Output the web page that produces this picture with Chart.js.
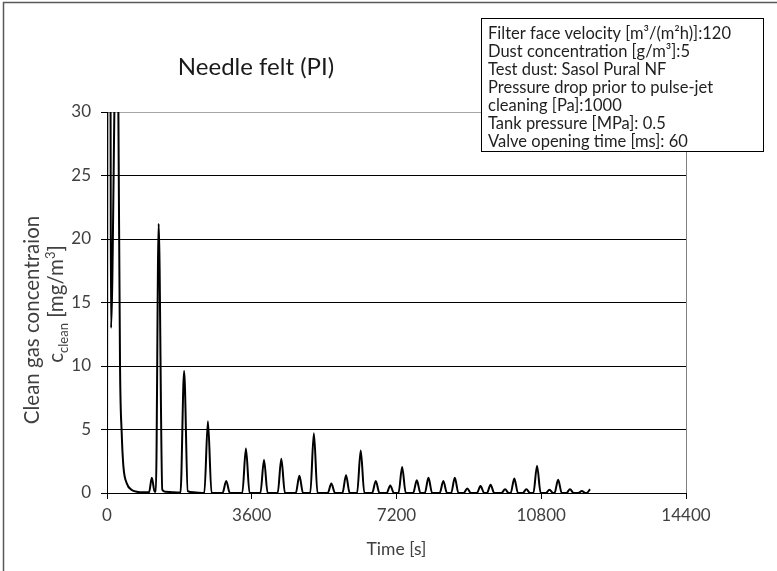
<!DOCTYPE html>
<html>
<head>
<meta charset="utf-8">
<title>Needle felt (PI)</title>
<script src="https://cdn.jsdelivr.net/npm/chart.js@4.4.0/dist/chart.umd.min.js"></script>
<style>
  html, body { margin: 0; padding: 0; background: #fff; }
  #wrap { width: 777px; height: 571px; }
</style>
</head>
<body>
<div id="wrap"><canvas id="myChart" width="777" height="571"></canvas></div>
<script>
// values
const timeS = [
  0, 20, 88, 100, 195, 245, 283, 324, 366, 408, 492, 616, 741, 900, 1045,
  1115, 1185, 1215, 1285, 1375, 1450, 1650, 1828, 1918, 2008, 2150, 2420,
  2510, 2600, 2875, 2965, 3055, 3365, 3455, 3545, 3815, 3905, 3995,
  4245, 4335, 4425, 4695, 4785, 4875, 5055, 5145, 5235, 5490, 5580, 5670,
  5855, 5945, 6035, 6220, 6310, 6400, 6595, 6685, 6775, 6955, 7045, 7135,
  7250, 7340, 7430, 7615, 7705, 7795, 7905, 7995, 8085, 8275, 8365, 8455,
  8560, 8650, 8740, 8870, 8960, 9050, 9200, 9290, 9380, 9450, 9540, 9630,
  9810, 9900, 9990, 10040, 10130, 10220, 10340, 10430, 10520, 10605, 10695, 10785,
  10915, 11005, 11095, 11130, 11220, 11310, 11425, 11515, 11605, 11720, 11810, 11900,
  11925, 12015
];
const concClean = [
  0, 60, 31, 13, 33, 45, 30, 10, 4.7, 2.1, 0.76, 0.24, 0.1, 0.05, 0.05,
  1.2, 0.1, 0.1, 21.2, 0.25, 0.1, 0.05, 0.03, 9.6, 0.15, 0.05, 0,
  5.65, 0, 0, 0.95, 0, 0, 3.5, 0, 0, 2.6, 0,
  0, 2.7, 0, 0, 1.35, 0, 0, 4.7, 0, 0, 0.75, 0,
  0, 1.4, 0, 0, 3.35, 0, 0, 0.95, 0, 0, 0.6, 0,
  0, 2.05, 0, 0, 1.0, 0, 0, 1.2, 0, 0, 0.95, 0,
  0, 1.2, 0, 0, 0.35, 0, 0, 0.55, 0, 0, 0.65, 0,
  0, 0.3, 0, 0, 1.15, 0, 0, 0.3, 0, 0, 2.15, 0,
  0, 0.25, 0, 0, 1.05, 0, 0, 0.3, 0, 0, 0.15, 0,
  0, 0.3
];
const xTicks = [0, 3600, 7200, 10800, 14400];
const yTicks = [0, 5, 10, 15, 20, 25, 30];

const chartTitle = "Needle felt (PI)";
const xTitle = "Time [s]";
const yTitleLine1 = "Clean gas concentraion";
const infoLines = [
  "Filter face velocity [m³/(m²h)]:120",
  "Dust concentration [g/m³]:5",
  "Test dust: Sasol Pural NF",
  "Pressure drop prior to pulse-jet",
  "cleaning [Pa]:1000",
  "Tank pressure [MPa]: 0.5",
  "Valve opening time [ms]: 60",
];

const FONT = "Lato";
const points = timeS.map((t, i) => ({ x: t, y: concClean[i] }));

// frame, title, info box and the two-line y title (with sub/superscript)
const decor = {
  id: "decor",
  afterDraw(chart) {
    const ctx = chart.ctx;
    ctx.save();
    ctx.strokeStyle = "#595959";
    ctx.lineWidth = 1.5;
    ctx.beginPath();
    ctx.moveTo(3.5, 571);
    ctx.lineTo(3.5, 2.5);
    ctx.lineTo(777, 2.5);
    ctx.stroke();

    ctx.fillStyle = "#1a1a1a";
    ctx.font = `24px ${FONT}`;
    ctx.textAlign = "center";
    ctx.textBaseline = "middle";
    ctx.fillText(chartTitle, 256, 67);

    // info box
    ctx.fillStyle = "#ffffff";
    ctx.fillRect(481, 18, 282, 133);
    ctx.strokeStyle = "#000";
    ctx.lineWidth = 1;
    ctx.strokeRect(481.5, 18.5, 282, 133);
    ctx.fillStyle = "#1f1f1f";
    ctx.font = `16.5px ${FONT}`;
    ctx.textAlign = "left";
    infoLines.forEach((s, i) => ctx.fillText(s, 488, 34 + i * 18));

    // y title
    const f = 20.5;
    ctx.fillStyle = "#404040";
    ctx.translate(32, 320);
    ctx.rotate(-Math.PI / 2);
    ctx.textAlign = "center";
    ctx.textBaseline = "alphabetic";
    ctx.font = `${f}px ${FONT}`;
    ctx.fillText(yTitleLine1, 0, 0.35 * f);
    // second line: c_clean [mg/m³]
    const small = `${Math.round(f * 0.65)}px ${FONT}`;
    const big = `${f}px ${FONT}`;
    const parts = [
      ["c", big, 0],
      ["clean", small, 0.22 * f],
      [" [mg/m", big, 0],
      ["3", small, -0.42 * f],
      ["]", big, 0],
    ];
    let w = 0;
    parts.forEach((p) => { ctx.font = p[1]; w += ctx.measureText(p[0]).width; });
    ctx.textAlign = "left";
    let x = -w / 2 + 16;
    const base = 24 + 0.35 * f;
    parts.forEach((p) => {
      ctx.font = p[1];
      ctx.fillText(p[0], x, base + p[2]);
      x += ctx.measureText(p[0]).width;
    });
    ctx.restore();
  },
};

const ctx = document.getElementById("myChart").getContext("2d");
const myChart = new Chart(ctx, {
  type: "line",
  data: {
    datasets: [
      {
        label: "c_clean",
        data: points,
        borderColor: "#000",
        borderWidth: 2,
        pointRadius: 0,
        fill: false,
        cubicInterpolationMode: "monotone",
        clip: 0,
      },
    ],
  },
  options: {
    responsive: false,
    animation: false,
    devicePixelRatio: 1,
    layout: { padding: { left: 0, top: 112, right: 91, bottom: 0 } },
    plugins: { legend: { display: false }, tooltip: { enabled: false } },
    scales: {
      x: {
        type: "linear",
        min: xTicks[0],
        max: xTicks[xTicks.length - 1],
        afterBuildTicks: (s) => { s.ticks = xTicks.map((v) => ({ value: v })); },
        afterFit: (s) => { s.height = 78; },
        ticks: {
          color: "#404040",
          font: { family: FONT, size: 17 },
          padding: 6,
          maxRotation: 0,
          autoSkip: false,
          callback: (v) => String(v),
        },
        grid: {
          color: (c) => (c.tick && c.tick.value === 14400 ? "#808080" : "rgba(0,0,0,0)"),
          tickColor: "#000",
          tickLength: 6,
        },
        border: { color: "#000", width: 1 },
        title: {
          display: true,
          text: xTitle,
          color: "#404040",
          font: { family: FONT, size: 17.5 },
          padding: { top: 0, bottom: 11 },
        },
      },
      y: {
        min: yTicks[0],
        max: yTicks[yTicks.length - 1],
        afterBuildTicks: (s) => { s.ticks = yTicks.map((v) => ({ value: v })); },
        afterFit: (s) => { s.width = 107; },
        ticks: {
          color: "#404040",
          font: { family: FONT, size: 17 },
          padding: 10,
          callback: (v) => String(v),
        },
        grid: {
          color: (c) => (c.tick && c.tick.value === 30 ? "#a6a6a6" : "#000"),
          tickColor: "#000",
          tickLength: 6,
        },
        border: { color: "#000", width: 1 },
      },
    },
  },
  plugins: [decor],
});
</script>
</body>
</html>
